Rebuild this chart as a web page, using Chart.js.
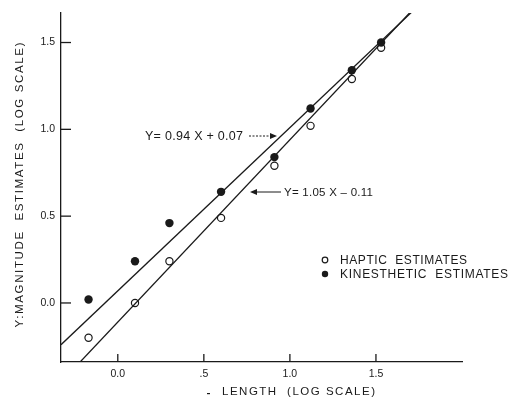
<!DOCTYPE html>
<html>
<head>
<meta charset="utf-8">
<script src="https://cdn.jsdelivr.net/npm/chart.js@4/dist/chart.umd.min.js"></script>
<style>
  html, body { margin: 0; padding: 0; background: #fff; }
  #wrap { width: 513px; height: 399px; }
</style>
</head>
<body>
<div id="wrap"><canvas id="myChart" width="513" height="399"></canvas></div>
<script>
// data (log units)
const lengths = [-0.17, 0.10, 0.30, 0.60, 0.91, 1.12, 1.36, 1.53];
const haptic = [-0.20, 0.00, 0.24, 0.49, 0.79, 1.02, 1.29, 1.47];
const kinesthetic = [0.02, 0.24, 0.46, 0.64, 0.84, 1.12, 1.34, 1.50];

// fitted lines Y = a X + b
const hapticFit = [1.05, -0.11];
const kinFit = [0.94, 0.07];
const fitRange = [-0.33, 1.78];

const xTicks = [0, 0.5, 1.0, 1.5];
const xTickLabels = ['0.0', '.5', '1.0', '1.5'];
const yTicks = [0, 0.5, 1.0, 1.5];
const yTickLabels = ['0.0', '0.5', '1.0', '1.5'];

const ink = '#1a1a1a';
const fontFam = "'Liberation Sans', Arial, sans-serif";

function pts(ys) {
  return lengths.map((x, i) => ({ x: x, y: ys[i] }));
}
function fitLine(f) {
  return fitRange.map(x => ({ x: x, y: f[0] * x + f[1] }));
}

// text stretched to a given width (the original uses wide lettering)
function fitText(ctx, txt, x, y, w, align) {
  ctx.save();
  ctx.letterSpacing = '0px';
  const m = ctx.measureText(txt).width;
  const sp = (w - m) / Math.max(1, txt.length - 1);
  ctx.letterSpacing = sp + 'px';
  ctx.textAlign = 'left';
  let x0 = x;
  if (align === 'center') x0 = x - w / 2;
  if (align === 'right') x0 = x - w;
  ctx.fillText(txt, x0, y);
  ctx.restore();
}

const decor = {
  id: 'decor',
  afterDraw(chart) {
    const ctx = chart.ctx;
    const xs = chart.scales.x, ys = chart.scales.y;
    const area = chart.chartArea;
    ctx.save();
    ctx.strokeStyle = ink;
    ctx.fillStyle = ink;
    ctx.lineWidth = 1.3;
    // inward ticks
    xTicks.forEach(v => {
      const px = xs.getPixelForValue(v);
      ctx.beginPath(); ctx.moveTo(px, area.bottom); ctx.lineTo(px, area.bottom - 8); ctx.stroke();
    });
    yTicks.forEach(v => {
      const py = ys.getPixelForValue(v);
      ctx.beginPath(); ctx.moveTo(area.left, py); ctx.lineTo(area.left + 10, py); ctx.stroke();
    });

    ctx.textBaseline = 'middle';

    // axis titles
    ctx.font = '11.5px ' + fontFam;
    fitText(ctx, 'LENGTH  (LOG SCALE)', 222, 392, 153, 'left');
    ctx.fillRect(207, 393, 3, 1.2);
    ctx.save();
    ctx.translate(20, 185);
    ctx.rotate(-Math.PI / 2);
    fitText(ctx, 'Y:MAGNITUDE  ESTIMATES  (LOG SCALE)', 0, 0, 285, 'center');
    ctx.restore();

    // equation labels
    ctx.font = '12.5px ' + fontFam;
    fitText(ctx, 'Y= 0.94 X + 0.07', 145, 137, 98, 'left');
    ctx.lineWidth = 1;
    ctx.setLineDash([2, 1.5]);
    ctx.beginPath(); ctx.moveTo(249, 136); ctx.lineTo(274, 136); ctx.stroke();
    ctx.setLineDash([]);
    ctx.beginPath(); ctx.moveTo(270, 133); ctx.lineTo(277, 136); ctx.lineTo(270, 139); ctx.closePath(); ctx.fill();

    ctx.font = '11.5px ' + fontFam;
    fitText(ctx, 'Y= 1.05 X \u2013 0.11', 284, 193, 89, 'left');
    ctx.beginPath(); ctx.moveTo(254, 192); ctx.lineTo(281, 192); ctx.stroke();
    ctx.beginPath(); ctx.moveTo(250, 192); ctx.lineTo(257, 189); ctx.lineTo(257, 195); ctx.closePath(); ctx.fill();

    // legend
    ctx.font = '12px ' + fontFam;
    ctx.lineWidth = 1.2;
    ctx.beginPath(); ctx.arc(325, 260, 2.8, 0, Math.PI * 2); ctx.stroke();
    ctx.beginPath(); ctx.arc(325, 274, 3.2, 0, Math.PI * 2); ctx.fill();
    fitText(ctx, 'HAPTIC  ESTIMATES', 340, 261, 127, 'left');
    fitText(ctx, 'KINESTHETIC  ESTIMATES', 340, 275, 168, 'left');
    ctx.restore();
  }
};

const config = {
  type: 'scatter',
  data: {
    datasets: [
      {
        label: 'kin fit', type: 'line', data: fitLine(kinFit),
        borderColor: ink, borderWidth: 1.3, pointRadius: 0, fill: false
      },
      {
        label: 'haptic fit', type: 'line', data: fitLine(hapticFit),
        borderColor: ink, borderWidth: 1.3, pointRadius: 0, fill: false
      },
      {
        label: 'KINESTHETIC ESTIMATES', data: pts(kinesthetic),
        pointRadius: 4.2, backgroundColor: ink, borderColor: ink, borderWidth: 0
      },
      {
        label: 'HAPTIC ESTIMATES', data: pts(haptic),
        pointRadius: 3.6, backgroundColor: '#fff', borderColor: ink, borderWidth: 1.2
      }
    ]
  },
  options: {
    responsive: false,
    animation: false,
    layout: { padding: { left: 0, top: 13, right: 51, bottom: 0 } },
    plugins: { legend: { display: false }, tooltip: { enabled: false } },
    scales: {
      x: {
        type: 'linear', min: -0.33, max: 2.0,
        grid: { display: false, drawTicks: false },
        border: { display: true, color: ink, width: 1.3 },
        afterBuildTicks: s => { s.ticks = xTicks.map(v => ({ value: v })); },
        afterFit: s => { s.height = 37; },
        ticks: {
          color: ink, padding: 6, maxRotation: 0,
          font: { family: fontFam, size: 10.5 },
          callback: (v, i) => xTickLabels[i]
        }
      },
      y: {
        type: 'linear', min: -0.34, max: 1.67,
        grid: { display: false, drawTicks: false },
        border: { display: true, color: ink, width: 1.3 },
        afterBuildTicks: s => { s.ticks = yTicks.map(v => ({ value: v })); },
        afterFit: s => { s.width = 61; },
        ticks: {
          color: ink, padding: 6,
          font: { family: fontFam, size: 10.5 },
          callback: (v, i) => yTickLabels[i]
        }
      }
    }
  },
  plugins: [decor]
};

const myChart = new Chart(document.getElementById('myChart'), config);
</script>
</body>
</html>
